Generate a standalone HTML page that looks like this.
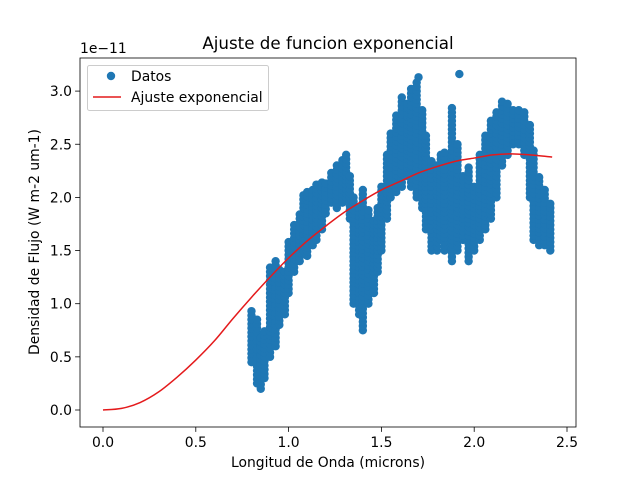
<!DOCTYPE html>
<html><head><meta charset="utf-8"><style>
body{margin:0;background:#fff;position:relative}
svg text{font-family:"DejaVu Sans","Liberation Sans",sans-serif;fill:#000}
</style></head><body>
<svg id="chart" width="640" height="480" viewBox="0 0 640 480">
<rect width="640" height="480" fill="#fff"/>
<g id="plot"></g>
<g id="axes"></g>
</svg>
<script>
const colX=[0.80,0.83,0.85,0.87,0.90,0.93,0.95,0.98,1.00,1.03,1.06,1.08,1.10,1.13,1.15,1.18,1.20,1.23,1.26,1.29,1.31,1.33,1.35,1.38,1.40,1.43,1.46,1.48,1.50,1.53,1.55,1.58,1.61,1.64,1.66,1.69,1.72,1.74,1.77,1.80,1.82,1.84,1.88,1.91,1.94,1.97,2.00,2.03,2.06,2.09,2.12,2.15,2.18,2.21,2.24,2.27,2.30,2.32,2.35,2.38,2.41];
const colLow=[0.45,0.25,0.2,0.3,0.5,0.6,0.8,0.9,1.1,1.3,1.4,1.5,1.45,1.55,1.6,1.7,1.85,1.95,1.9,1.95,2.0,1.8,1.0,0.9,0.75,1.0,1.1,1.3,1.5,1.8,2.0,2.05,2.1,2.2,2.1,2.0,1.9,1.7,1.5,1.5,1.6,1.5,1.4,1.5,1.6,1.4,1.5,1.6,1.7,1.8,2.0,2.3,2.4,2.5,2.5,2.4,2.0,1.6,1.55,1.55,1.5];
const colHigh=[0.95,0.85,0.7,0.75,1.35,1.4,1.35,1.3,1.6,1.75,1.85,2.05,2.05,2.1,2.15,2.15,2.15,2.25,2.3,2.35,2.4,2.2,2.0,1.9,2.1,1.9,1.8,1.9,2.1,2.4,2.6,2.8,2.95,2.9,3.05,3.1,2.85,2.6,2.35,2.3,2.4,2.45,2.85,2.5,2.2,2.3,2.1,2.4,2.6,2.75,2.8,2.9,2.9,2.85,2.85,2.8,2.7,2.45,2.2,2.1,1.95];
const outX=[1.70,1.92];
const outY=[3.13,3.16];
const fitX=[0,0.1,0.2,0.3,0.4,0.5,0.6,0.7,0.8,0.9,1.0,1.1,1.2,1.3,1.4,1.5,1.6,1.7,1.8,1.9,2.0,2.1,2.2,2.3,2.42];
const fitY=[0,0.015,0.07,0.17,0.31,0.47,0.65,0.86,1.06,1.25,1.43,1.59,1.73,1.86,1.97,2.07,2.15,2.23,2.29,2.34,2.37,2.40,2.41,2.40,2.38];
const xTicks=[0,0.5,1.0,1.5,2.0,2.5];
const yTicks=[0,0.5,1.0,1.5,2.0,2.5,3.0];

const L=80,R=576,T=58,B=427;
const sx=v=>103+v*185.6;
const sy=v=>410-v*106.3;
const NS="http://www.w3.org/2000/svg";
const plot=document.getElementById('plot'),axes=document.getElementById('axes');
function mk(tag,attrs,parent){const e=document.createElementNS(NS,tag);for(const k in attrs)e.setAttribute(k,attrs[k]);parent.appendChild(e);return e;}

for(let i=0;i<colX.length;i++){
  for(let y=colLow[i];y<=colHigh[i]+1e-9;y+=0.04){
    const c=mk('circle',{cx:sx(colX[i]),cy:sy(y),r:4.2,fill:'#1f77b4'},plot);
    
    
  }
}
for(let i=0;i<outX.length;i++){
  const c=mk('circle',{cx:sx(outX[i]),cy:sy(outY[i]),r:4.2,fill:'#1f77b4'},plot);
  
  
}
// smooth Catmull-Rom path through fit points
const P=fitX.map((x,i)=>[sx(x),sy(fitY[i])]);
let d='M'+P[0][0]+','+P[0][1];
for(let i=0;i<P.length-1;i++){
  const p0=P[Math.max(i-1,0)],p1=P[i],p2=P[i+1],p3=P[Math.min(i+2,P.length-1)];
  const c1=[p1[0]+(p2[0]-p0[0])/6,p1[1]+(p2[1]-p0[1])/6];
  const c2=[p2[0]-(p3[0]-p1[0])/6,p2[1]-(p3[1]-p1[1])/6];
  d+=' C'+c1[0]+','+c1[1]+' '+c2[0]+','+c2[1]+' '+p2[0]+','+p2[1];
}
const fit=mk('path',{d:d,fill:'none',stroke:'#e41a1c','stroke-width':1.5},plot);



const frame=mk('rect',{x:L,y:T,width:R-L,height:B-T,fill:'none',stroke:'#000','stroke-width':0.8},axes);


xTicks.forEach(t=>{
  mk('line',{x1:sx(t),x2:sx(t),y1:B,y2:B+4.9,stroke:'#000','stroke-width':0.8},axes);
  const tx=mk('text',{x:sx(t),y:B+20,'font-size':13.9,'text-anchor':'middle'},axes);
  tx.textContent=t.toFixed(1);
  
  
});
yTicks.forEach(t=>{
  mk('line',{x1:L-4.9,x2:L,y1:sy(t),y2:sy(t),stroke:'#000','stroke-width':0.8},axes);
  const tx=mk('text',{x:L-8,y:sy(t)+5,'font-size':13.9,'text-anchor':'end'},axes);
  tx.textContent=t.toFixed(1);
  
  
});
</script>
<svg width="640" height="480" style="position:absolute;left:0;top:0">
<text x="80" y="53" font-size="13.9">1e−11</text>
<text x="328" y="49" font-size="16.7" text-anchor="middle">Ajuste de funcion exponencial</text>
<text x="328" y="467" font-size="13.9" text-anchor="middle">Longitud de Onda (microns)</text>
<text x="39" y="242" font-size="13.9" text-anchor="middle" transform="rotate(-90 39 242)">Densidad de Flujo (W m-2 um-1)</text>
<g>
<rect x="87.5" y="65.5" width="181" height="45" rx="2" fill="#fff" fill-opacity="0.8" stroke="#ccc"/>
<circle cx="111" cy="76" r="4.2" fill="#1f77b4"/>
<text x="131" y="81" font-size="13.9">Datos</text>
<line x1="93" x2="121" y1="97" y2="97" stroke="#e41a1c" stroke-width="1.5"/>
<text x="131" y="102" font-size="13.9">Ajuste exponencial</text>
</g>
</svg>
</body></html>
